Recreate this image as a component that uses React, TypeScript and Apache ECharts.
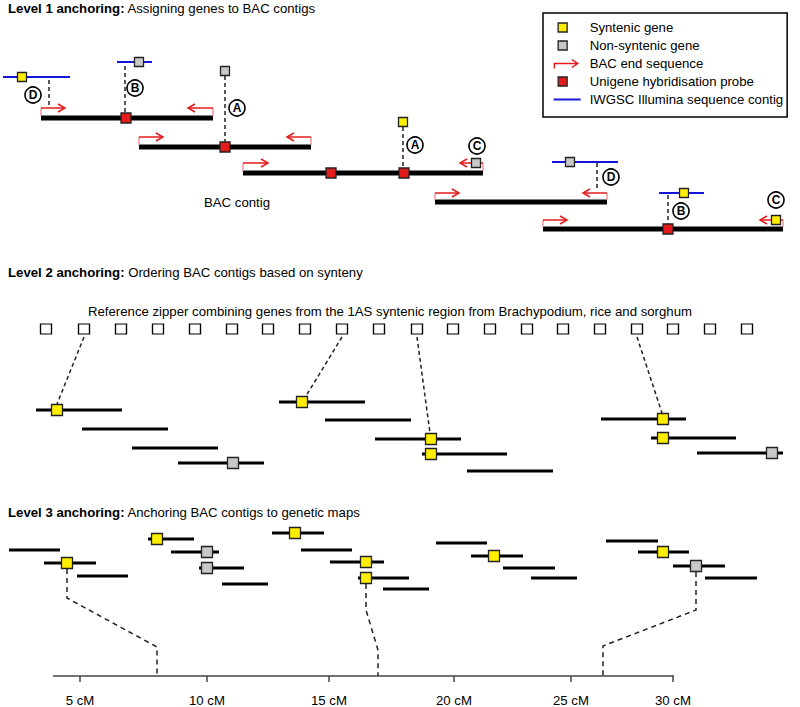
import React, { useEffect, useRef } from "react";
import * as echarts from "echarts";

const FONT = '"Liberation Sans", Arial, Helvetica, sans-serif';
const FS = 13.2;

// ---------- Level 1 (coordinates in diagram units) ----------
const level1Contigs = [
  [41, 213, 118],
  [139, 311, 147],
  [243, 483, 173],
  [435, 607, 202],
  [543, 783, 229],
];
const level1Illumina = [
  [3, 70, 77],
  [117, 152, 62],
  [552, 618, 162],
  [659, 704, 193],
];
// [tail x, head x, contig y, arrow y]
const level1BesArrows = [
  [41, 65, 118, 108],
  [213, 188, 118, 108],
  [139, 163, 147, 137],
  [311, 287, 147, 137],
  [243, 268, 173, 163],
  [483, 460, 173, 163],
  [435, 459, 202, 193],
  [607, 583, 202, 193],
  [543, 567, 229, 220],
  [783, 760, 229, 220],
];
const level1Probes = [
  [126, 118],
  [225, 147],
  [331, 173],
  [404, 173],
  [668, 229],
];
const level1Syntenic = [
  [22, 77],
  [403, 122],
  [684, 193],
  [776, 220],
];
const level1NonSyntenic = [
  [139, 62],
  [225, 71],
  [476, 163],
  [570, 162],
];
const level1Links = [
  [[49, 80], [49, 106]],
  [[125, 66], [125, 113]],
  [[225, 76], [225, 142]],
  [[403, 127], [403, 168]],
  [[597, 163], [597, 190]],
  [[668, 195], [668, 224]],
];
const level1Markers: [number, number, string][] = [
  [33, 95, "D"],
  [135, 88, "B"],
  [237, 108, "A"],
  [415, 145, "A"],
  [477, 146, "C"],
  [611, 177, "D"],
  [681, 211, "B"],
  [776, 200, "C"],
];

// ---------- Level 2 ----------
const zipperGenes = [
  [46, 329], [84, 329], [121, 329], [158, 329], [195, 329],
  [232, 329], [268, 329], [305, 329], [342, 329], [379, 329],
  [417, 329], [453, 329], [490, 329], [527, 329], [563, 329],
  [600, 329], [637, 329], [673, 329], [710, 329], [747, 329],
];
const level2Contigs = [
  [36, 122, 410],
  [82, 168, 429],
  [132, 218, 448],
  [178, 264, 463],
  [279, 365, 402],
  [325, 411, 420],
  [375, 461, 439],
  [422, 507, 454],
  [467, 553, 471],
  [601, 686, 419],
  [651, 736, 438],
  [697, 783, 453],
];
const level2Syntenic = [
  [57, 410],
  [302, 402],
  [431, 439],
  [431, 454],
  [663, 419],
  [663, 438],
];
const level2NonSyntenic = [
  [233, 463],
  [772, 453],
];
const level2Links = [
  [[84, 337], [57, 404]],
  [[342, 337], [306, 396]],
  [[417, 337], [430, 433]],
  [[637, 337], [662, 413]],
];

// ---------- Level 3 ----------
const level3Contigs = [
  [9, 60, 550], [44, 96, 563], [77, 128, 576],
  [148, 194, 539], [171, 219, 552], [199, 244, 568], [222, 268, 584],
  [272, 324, 533], [301, 352, 550], [330, 384, 562], [358, 409, 578], [383, 429, 589],
  [436, 487, 543], [471, 523, 556], [503, 555, 568], [531, 577, 578],
  [606, 658, 541], [638, 689, 552], [673, 725, 566], [705, 757, 578],
];
const level3Syntenic = [
  [67, 563],
  [157, 539],
  [295, 533],
  [366, 562],
  [366, 578],
  [494, 556],
  [663, 552],
];
const level3NonSyntenic = [
  [207, 552],
  [207, 568],
  [696, 566],
];
const level3Links = [
  [[67, 569], [67, 598], [157, 647], [157, 676]],
  [[366, 584], [366, 610], [378, 650], [378, 676]],
  [[696, 572], [696, 610], [603, 646], [603, 676]],
];

// Genetic map axis
const cmAxis = [[53, 674, 676]];
const cmTickLabels = ["5 cM", "10 cM", "15 cM", "20 cM", "25 cM", "30 cM"];
const cmTickPositions = [80, 207, 329, 454, 571, 673];

// ---------- colours ----------
const YELLOW = "#ffee00";
const GREY = "#c8c8c8";
const RED = "#e41b1b";
const BLUE = "#1515d8";

function segmentSeries(name: string, data: number[][], style: any, z: number) {
  return {
    type: "custom",
    name,
    data,
    encode: { x: [0, 1], y: 2 },
    clip: false,
    silent: true,
    z,
    renderItem: (_p: any, api: any) => {
      const a = api.coord([api.value(0), api.value(2)]);
      const b = api.coord([api.value(1), api.value(2)]);
      return {
        type: "line",
        shape: { x1: a[0], y1: a[1], x2: b[0], y2: b[1] },
        style: { ...style, fill: null },
      };
    },
  };
}

function polylineSeries(name: string, paths: number[][][], style: any, z: number) {
  return {
    type: "custom",
    name,
    data: paths.map((p) => p[0]),
    encode: { x: 0, y: 1 },
    clip: false,
    silent: true,
    z,
    renderItem: (params: any, api: any) => {
      const pts = paths[params.dataIndex].map((pt) => api.coord(pt));
      return {
        type: "polyline",
        shape: { points: pts },
        style: { ...style, fill: null },
      };
    },
  };
}

function squareSeries(name: string, data: number[][], size: any, color: string, border: string, z: number) {
  return {
    type: "scatter",
    name,
    data,
    symbol: "rect",
    symbolSize: size,
    silent: true,
    z,
    itemStyle: { color, borderColor: border, borderWidth: 1.3, opacity: 1 },
  };
}

const DASH = { stroke: "#222", lineWidth: 1.5, lineDash: [4, 3] };

const SQ_ICON = "path://M0,0L0,0M31,10L31,10M4.5,0.5L13.5,0.5L13.5,9.5L4.5,9.5Z";
const ARROW_ICON =
  "path://M0,0L0,0M31,10L31,10M0,4.3L24,4.3L24,5.7L1.4,5.7L1.4,10L0,10Z M18.5,0.6L25.5,5L18.5,9.4L17.8,8.3L23.3,5L17.8,1.7Z";
const LINE_ICON = "path://M0,0L0,0M31,10L31,10M0,4L27,4L27,6L0,6Z";

function buildOption() {
  return {
    animation: false,
    grid: { left: 0, right: 0, top: 0, bottom: 0 },
    xAxis: { type: "value", min: 0, max: 800, show: false },
    yAxis: { type: "value", min: 0, max: 707, inverse: true, show: false },
    title: [
      { top: 2, text: "{b|Level 1 anchoring:} Assigning genes to BAC contigs" },
      { top: 266, text: "{b|Level 2 anchoring:} Ordering BAC contigs based on synteny" },
      { top: 506, text: "{b|Level 3 anchoring:} Anchoring BAC contigs to genetic maps" },
    ].map((t) => ({
      ...t,
      left: 8,
      padding: 0,
      textStyle: {
        fontSize: FS,
        fontWeight: "normal",
        color: "#000",
        fontFamily: FONT,
        rich: { b: { fontWeight: "bold", fontSize: FS, color: "#000", fontFamily: FONT } },
      },
    })),
    legend: {
      orient: "vertical",
      left: 543,
      top: 13,
      padding: [8, 4, 11, 10],
      itemGap: 5,
      itemWidth: 31,
      itemHeight: 10,
      borderColor: "#000",
      borderWidth: 1.5,
      selectedMode: false,
      textStyle: { fontSize: FS, color: "#000", fontFamily: FONT },
      data: [
        { name: "Syntenic gene", icon: SQ_ICON, itemStyle: { color: YELLOW, borderColor: "#222", borderWidth: 1.3 } },
        { name: "Non-syntenic gene", icon: SQ_ICON, itemStyle: { color: GREY, borderColor: "#222", borderWidth: 1.3 } },
        { name: "BAC end sequence", icon: ARROW_ICON, itemStyle: { color: RED, borderWidth: 0 } },
        { name: "Unigene hybridisation probe", icon: SQ_ICON, itemStyle: { color: RED, borderColor: "#222", borderWidth: 1.3 } },
        { name: "IWGSC Illumina sequence contig", icon: LINE_ICON, itemStyle: { color: BLUE, borderWidth: 0 } },
      ],
    },
    graphic: [
      {
        type: "text",
        x: 237,
        y: 202,
        style: {
          text: "BAC contig",
          align: "center",
          textAlign: "center",
          verticalAlign: "middle",
          textVerticalAlign: "middle",
          fontSize: FS,
          fontFamily: FONT,
          fill: "#000",
        },
      },
      {
        type: "text",
        x: 390,
        y: 311,
        style: {
          text: "Reference zipper combining genes from the 1AS syntenic region from Brachypodium, rice and sorghum",
          align: "center",
          textAlign: "center",
          verticalAlign: "middle",
          textVerticalAlign: "middle",
          fontSize: FS,
          fontFamily: FONT,
          fill: "#000",
        },
      },
    ],
    series: [
      // Level 1
      polylineSeries("level1 links", level1Links, DASH, 1),
      segmentSeries("IWGSC Illumina sequence contig", level1Illumina, { stroke: BLUE, lineWidth: 2 }, 2),
      segmentSeries("BAC contigs", level1Contigs, { stroke: "#000", lineWidth: 5 }, 2),
      {
        type: "custom",
        name: "BAC end sequence",
        data: level1BesArrows,
        encode: { x: [0, 1], y: [2, 3] },
        clip: false,
        silent: true,
        z: 3,
        renderItem: (_p: any, api: any) => {
          const c0 = api.coord([api.value(0), api.value(2)]);
          const c1 = api.coord([api.value(0), api.value(3)]);
          const c2 = api.coord([api.value(1), api.value(3)]);
          const dir = c2[0] > c1[0] ? 1 : -1;
          return {
            type: "group",
            children: [
              {
                type: "line",
                shape: { x1: c0[0], y1: c0[1] - 2, x2: c1[0], y2: c1[1] },
                style: { stroke: "#f09090", lineWidth: 1.4 },
              },
              {
                type: "line",
                shape: { x1: c1[0], y1: c1[1], x2: c2[0], y2: c2[1] },
                style: { stroke: RED, lineWidth: 1.5 },
              },
              {
                type: "polyline",
                shape: {
                  points: [
                    [c2[0] - dir * 7, c2[1] - 4],
                    [c2[0], c2[1]],
                    [c2[0] - dir * 7, c2[1] + 4],
                  ],
                },
                style: { stroke: RED, lineWidth: 1.5, fill: null },
              },
            ],
          };
        },
      },
      squareSeries("Unigene hybridisation probe", level1Probes, 10, RED, "#222", 5),
      squareSeries("Syntenic gene", level1Syntenic, 9, YELLOW, "#222", 5),
      squareSeries("Non-syntenic gene", level1NonSyntenic, 9, GREY, "#222", 5),
      {
        type: "scatter",
        name: "level1 markers",
        data: level1Markers.map(([x, y, l]) => ({ value: [x, y], name: l })),
        symbol: "circle",
        symbolSize: 16,
        silent: true,
        z: 6,
        itemStyle: { color: "#fff", borderColor: "#000", borderWidth: 1.6, opacity: 1 },
        label: {
          show: true,
          position: "inside",
          formatter: "{b}",
          fontSize: 12,
          fontWeight: "bold",
          color: "#000",
          fontFamily: FONT,
        },
      },
      // Level 2
      polylineSeries("level2 links", level2Links, DASH, 1),
      segmentSeries("level2 contigs", level2Contigs, { stroke: "#000", lineWidth: 3 }, 2),
      squareSeries("zipper genes", zipperGenes, [11, 10], "#fff", "#000", 5),
      squareSeries("level2 syntenic", level2Syntenic, 11, YELLOW, "#222", 5),
      squareSeries("level2 non-syntenic", level2NonSyntenic, 11, GREY, "#222", 5),
      // Level 3
      polylineSeries("level3 links", level3Links, { ...DASH, lineDash: [5, 4] }, 1),
      segmentSeries("level3 contigs", level3Contigs, { stroke: "#000", lineWidth: 3 }, 2),
      squareSeries("level3 syntenic", level3Syntenic, 11, YELLOW, "#222", 5),
      squareSeries("level3 non-syntenic", level3NonSyntenic, 11, GREY, "#222", 5),
      // Genetic map axis
      segmentSeries("genetic map axis", cmAxis, { stroke: "#444", lineWidth: 1.5 }, 2),
      {
        type: "custom",
        name: "genetic map ticks",
        data: cmTickPositions.map((x) => [x, cmAxis[0][2]]),
        encode: { x: 0, y: 1 },
        clip: false,
        silent: true,
        z: 2,
        renderItem: (params: any, api: any) => {
          const c = api.coord([api.value(0), api.value(1)]);
          return {
            type: "group",
            children: [
              {
                type: "line",
                shape: { x1: c[0], y1: c[1], x2: c[0], y2: c[1] + 6 },
                style: { stroke: "#444", lineWidth: 1.5 },
              },
              {
                type: "text",
                style: {
                  text: cmTickLabels[params.dataIndex],
                  x: c[0],
                  y: c[1] + 24,
                  align: "center",
                  verticalAlign: "middle",
                  fontSize: FS,
                  fontFamily: FONT,
                  fill: "#000",
                },
              },
            ],
          };
        },
      },
    ],
  };
}

export default function App() {
  const ref = useRef<HTMLDivElement>(null);
  useEffect(() => {
    document.body.style.margin = "0";
    const el = ref.current;
    if (!el) return;
    const chart = echarts.init(el, null, { renderer: "svg" });
    chart.setOption(buildOption() as any);
    return () => chart.dispose();
  }, []);
  return <div ref={ref} style={{ width: 800, height: 707, background: "#fff" }} />;
}
